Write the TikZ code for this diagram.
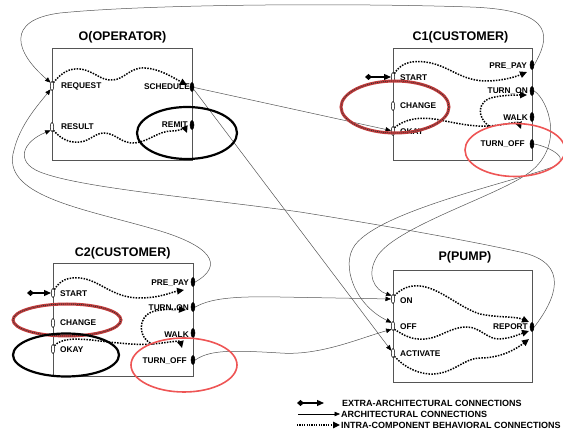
\documentclass[tikz,border=0pt]{standalone}
\usepackage{fontspec}
\setmainfont{Liberation Sans}
\usetikzlibrary{arrows.meta,shapes.geometric}
\definecolor{ln}{RGB}{85,85,85}
\definecolor{hatch}{RGB}{195,60,60}
\definecolor{hired}{RGB}{238,85,85}
\tikzset{
 box/.style={draw=ln, line width=0.7pt, inner sep=0},
 ttl/.style={font=\bfseries\fontsize{12.5}{14}\selectfont, inner sep=0},
 lbl/.style={font=\bfseries\fontsize{8.3}{10}\selectfont, inner sep=0},
 inport/.style={ellipse, draw=black, fill=white, line width=0.5pt, minimum width=3.5pt, minimum height=9pt, inner sep=0},
 outport/.style={ellipse, draw=black, fill=black, line width=0.5pt, minimum width=4pt, minimum height=9pt, inner sep=0},
 arch/.style={draw=ln, line width=0.5pt, -{Triangle[length=5.5pt,width=4.5pt,color=black]}},
 intra/.style={line width=1.5pt, dash pattern=on 1.5pt off 1.3pt, -{Triangle[length=7pt,width=6.5pt]}},
 intranotip/.style={line width=1.5pt, dash pattern=on 1.5pt off 1.3pt},
 extra/.style={line width=1.2pt, {Diamond[length=7pt,width=6pt]}-{Triangle[length=7pt,width=6pt]}},
 hatchring/.style={ellipse, draw=hatch, line width=3pt, inner sep=0},
 hatchtex/.style={ellipse, draw=black!80, line width=0.9pt, dash pattern=on 0.9pt off 1.1pt, inner sep=0},
 blackring/.style={ellipse, draw=black, line width=2.2pt, inner sep=0},
 redring/.style={ellipse, draw=hired, line width=1.6pt, inner sep=0},
 legendtxt/.style={font=\bfseries\fontsize{9}{11}\selectfont, inner sep=0, anchor=west},
}
\begin{document}
\begin{tikzpicture}[x=1pt,y=-1pt]
\useasboundingbox (0,0) rectangle (563,438);
\clip (0,0) rectangle (563,438);

% ---------- boxes and titles ----------
\node[box, minimum width=140pt, minimum height=112pt] (O) at (122,104) {};
\node[box, minimum width=139pt, minimum height=112pt] (C1) at (462.5,104) {};
\node[box, minimum width=140pt, minimum height=113pt] (C2) at (123,319.5) {};
\node[box, minimum width=139pt, minimum height=112pt] (P) at (462.5,326) {};
\node[ttl] (Ot) at (122.5,37) {O(OPERATOR)};
\node[ttl] (C1t) at (460.5,37) {C1(CUSTOMER)};
\node[ttl] (C2t) at (122.7,253) {C2(CUSTOMER)};
\node[ttl] (Pt) at (465,257) {P(PUMP)};

% ---------- labels ----------
\node[lbl, anchor=west] (O-req-l) at (61,86.5) {REQUEST};
\node[lbl, anchor=west] (O-res-l) at (61,127) {RESULT};
\node[lbl, anchor=east] (O-sch-l) at (190,87) {SCHEDULE};
\node[lbl, anchor=east] (O-rem-l) at (188,125) {REMIT};

\node[lbl, anchor=west] (C1-st-l) at (400,77.5) {START};
\node[lbl, anchor=west] (C1-ch-l) at (400,106) {CHANGE};
\node[lbl, anchor=west] (C1-ok-l) at (400,132) {OKAY};
\node[lbl, anchor=east] (C1-pp-l) at (527,66) {PRE\_PAY};
\node[lbl, anchor=east] (C1-on-l) at (528,91.5) {TURN\_ON};
\node[lbl, anchor=east] (C1-wk-l) at (528,117.5) {WALK};
\node[lbl, anchor=east] (C1-of-l) at (525,144) {TURN\_OFF};

\node[lbl, anchor=west] (C2-st-l) at (60,294) {START};
\node[lbl, anchor=west] (C2-ch-l) at (60,323) {CHANGE};
\node[lbl, anchor=west] (C2-ok-l) at (60,350) {OKAY};
\node[lbl, anchor=east] (C2-pp-l) at (189,283) {PRE\_PAY};
\node[lbl, anchor=east] (C2-on-l) at (189,308) {TURN\_ON};
\node[lbl, anchor=east] (C2-wk-l) at (189,335) {WALK};
\node[lbl, anchor=east] (C2-of-l) at (187,361) {TURN\_OFF};

\node[lbl, anchor=west] (P-on-l) at (400,300.5) {ON};
\node[lbl, anchor=west] (P-of-l) at (400,327) {OFF};
\node[lbl, anchor=west] (P-ac-l) at (400,354) {ACTIVATE};
\node[lbl, anchor=east] (P-rep-l) at (528,327) {REPORT};

% ---------- ports ----------
\node[inport] (O-req) at (52,86) {};
\node[inport] (O-res) at (52,127) {};
\node[outport] (O-sch) at (192,87) {};
\node[outport] (O-rem) at (192,125) {};

\node[inport] (C1-st) at (393,77) {};
\node[inport] (C1-ch) at (393,106) {};
\node[inport] (C1-ok) at (393,131) {};
\node[outport] (C1-pp) at (532,65) {};
\node[outport] (C1-on) at (532,91) {};
\node[outport] (C1-wk) at (532,117) {};
\node[outport] (C1-of) at (532,144) {};

\node[inport] (C2-st) at (53,293) {};
\node[inport] (C2-ch) at (53,323) {};
\node[inport] (C2-ok) at (53,349) {};
\node[outport] (C2-pp) at (193,282) {};
\node[outport] (C2-on) at (193,307) {};
\node[outport] (C2-wk) at (193,333) {};
\node[outport] (C2-of) at (193,360) {};

\node[inport] (P-on) at (393,299) {};
\node[inport] (P-of) at (393,326) {};
\node[inport] (P-ac) at (393,353) {};
\node[outport] (P-rep) at (532,327) {};

% ---------- intra-component behavioural connections ----------
\draw[intra] (O-req.north east) .. controls (62,72) and (70,68) .. (80,69)
  .. controls (95,71) and (100,81) .. (113,80)
  .. controls (125,79) and (130,67) .. (145,68)
  .. controls (160,69) and (172,77) .. (187,85);
\draw[intra] (O-res.south east) .. controls (62,140) and (70,143) .. (80,142)
  .. controls (90,141) and (95,133) .. (104,133)
  .. controls (116,133) and (121,144) .. (135,143)
  .. controls (150,141) and (158,131) .. (172,131)
  .. controls (180,131) and (185,128) .. (187,133);

\draw[intra] (C1-st.north east) .. controls (400,64) and (410,60) .. (425,62)
  .. controls (450,65) and (460,82) .. (490,81)
  .. controls (505,80) and (515,77) .. (527,72);
\coordinate (C1-br) at (489,126);
\draw[intranotip] (C1-ok.north east) .. controls (405,119) and (420,116) .. (440,120)
  .. controls (460,124) and (475,127) .. (C1-br);
\draw[intra] (C1-br) .. controls (505,125) and (518,121) .. (521,129);
\draw[intra] (C1-br) .. controls (477,118) and (476,100) .. (495,97)
  .. controls (505,95) and (515,95) .. (527,95);

\draw[intra] (C2-st.north east) .. controls (60,280) and (68,277) .. (80,278)
  .. controls (100,280) and (112,298) .. (140,298)
  .. controls (160,298) and (172,292) .. (184,290);
\coordinate (C2-br) at (153,344);
\draw[intranotip] (C2-ok.north east) .. controls (62,338) and (75,338) .. (100,341)
  .. controls (125,344) and (140,345) .. (C2-br);
\draw[intra] (C2-br) .. controls (165,343) and (180,340) .. (182,348);
\draw[intra] (C2-br) .. controls (138,340) and (136,315) .. (155,311)
  .. controls (165,309) and (175,309) .. (186,310);

\draw[intra] (P-on.north east) .. controls (402,288) and (410,285) .. (420,286)
  .. controls (440,288) and (460,308) .. (480,314)
  .. controls (500,318) and (515,316) .. (529,322);
\draw[intra] (P-of.south east) .. controls (405,336) and (412,340) .. (425,339)
  .. controls (440,338) and (450,327) .. (467,327)
  .. controls (480,327) and (488,340) .. (500,339)
  .. controls (512,338) and (520,334) .. (529,331);
\draw[intra] (P-ac.south east) .. controls (405,368) and (420,375) .. (435,374)
  .. controls (455,372) and (465,358) .. (480,358)
  .. controls (500,358) and (515,350) .. (529,339);

% ---------- architectural connections ----------
\draw[arch] (C1-pp.east) .. controls (548,40) and (560,10) .. (470,7)
  .. controls (350,3) and (150,4) .. (60,13)
  .. controls (5,20) and (15,52) .. (O-req.north west);
\draw[arch] (C2-pp.east) .. controls (225,265) and (212,245) .. (150,228)
  .. controls (80,208) and (0,195) .. (14,150)
  .. controls (20,125) and (38,105) .. (O-req.south west);
\draw[arch] (P-rep.east) .. controls (555,300) and (572,263) .. (520,252)
  .. controls (480,243) and (400,228) .. (300,212)
  .. controls (200,198) and (80,188) .. (40,172)
  .. controls (15,162) and (22,142) .. (O-res.south west);
\draw[arch] (O-sch) -- (C1-ok);
\draw[arch] (O-sch) -- (P-ac);
\draw[arch] (C1-on.east) .. controls (548,100) and (565,145) .. (530,172)
  .. controls (500,195) and (400,225) .. (378,255)
  .. controls (365,275) and (375,290) .. (P-on.north west);
\draw[arch] (C1-of.east) .. controls (550,147) and (575,160) .. (550,168)
  .. controls (500,185) and (380,212) .. (355,245)
  .. controls (340,265) and (355,305) .. (P-of.north west);
\draw[arch] (C2-on.east) .. controls (210,299) and (230,296) .. (280,297)
  -- (P-on.west);
\draw[arch] (C2-of.east) .. controls (210,350) and (230,350) .. (280,353)
  .. controls (320,356) and (360,338) .. (P-of.south west);

% ---------- extra-architectural connections ----------
\coordinate (C1-ext) at (365,77);
\coordinate (C2-ext) at (27,293);
\draw[extra] (C1-ext) -- (C1-st.west);
\draw[extra] (C2-ext) -- (C2-st.west);

% ---------- highlights ----------
\node[blackring, minimum width=100pt, minimum height=52pt] (hlO) at (187,133) {};
\node[hatchring, minimum width=108pt, minimum height=52pt] (hlC1a) at (395,107) {};
\node[hatchtex, minimum width=108pt, minimum height=52pt] (hlC1b) at (395,107) {};
\node[redring, minimum width=100pt, minimum height=53pt] (hlC1c) at (515,150) {};
\node[hatchring, minimum width=108pt, minimum height=32pt] (hlC2a) at (67,320) {};
\node[hatchtex, minimum width=108pt, minimum height=32pt] (hlC2b) at (67,320) {};
\node[blackring, minimum width=106pt, minimum height=43pt] (hlC2c) at (66,355) {};
\node[redring, minimum width=106pt, minimum height=54pt] (hlC2d) at (184,365) {};

% ---------- legend ----------
\coordinate (L1a) at (297,403); \coordinate (L1b) at (324,403);
\coordinate (L2a) at (298,414); \coordinate (L2b) at (340,414);
\coordinate (L3a) at (297,425); \coordinate (L3b) at (340,425);
\draw[extra] (L1a) -- (L1b);
\draw[arch, draw=black] (L2a) -- (L2b);
\draw[intra, line width=1.2pt, dash pattern=on 1.2pt off 1.2pt] (L3a) -- (L3b);
\node[legendtxt] (L1t) at (342,403) {EXTRA-ARCHITECTURAL CONNECTIONS};
\node[legendtxt] (L2t) at (341,414) {ARCHITECTURAL CONNECTIONS};
\node[legendtxt] (L3t) at (341,425) {INTRA-COMPONENT BEHAVIORAL CONNECTIONS};
\end{tikzpicture}
\end{document}
